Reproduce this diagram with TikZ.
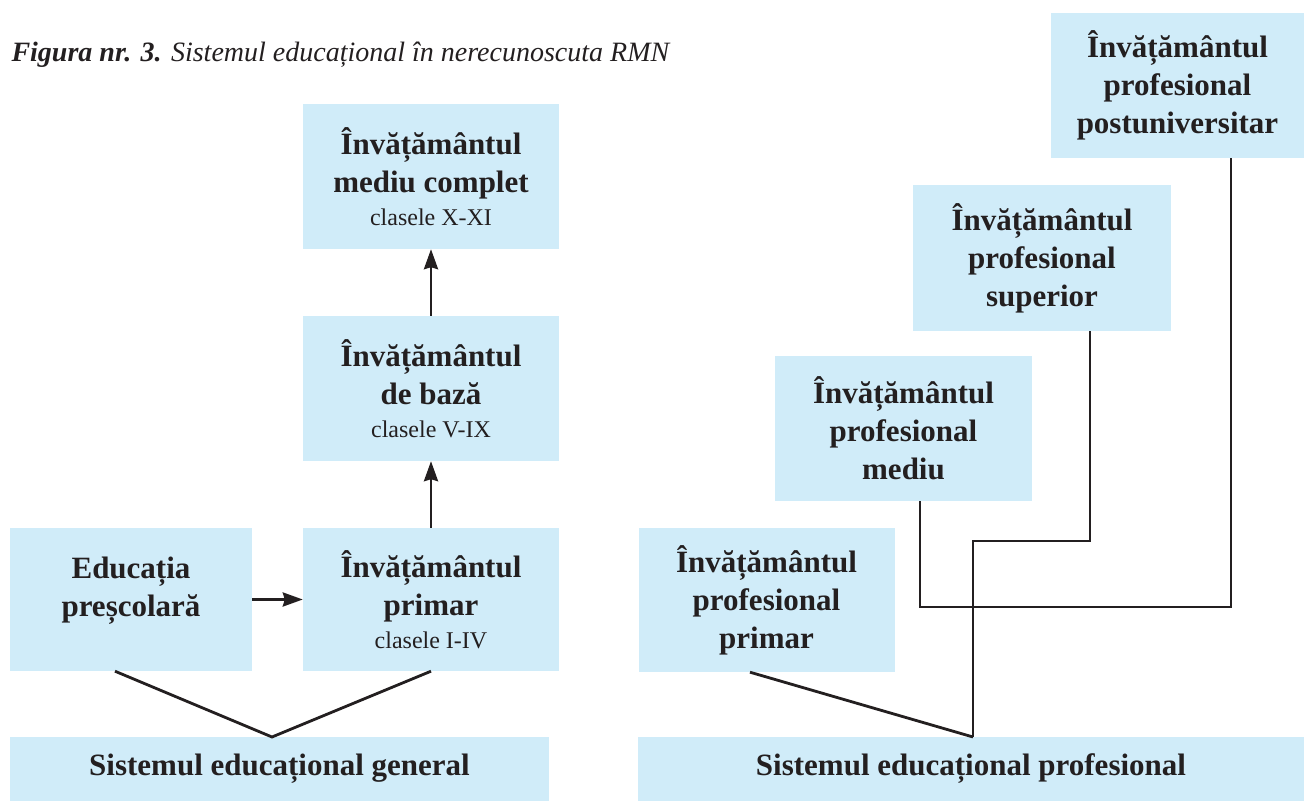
\documentclass[tikz,border=0pt]{standalone}
\usepackage{fontspec}
\setmainfont{Liberation Serif}
\usepackage{tikz}
\usetikzlibrary{arrows.meta}
\definecolor{boxblue}{HTML}{D0ECF9}
\definecolor{inkdark}{HTML}{231F20}

\begin{document}
\begin{tikzpicture}
  [
    x=1pt, y=-1pt,
    every node/.style = {text=inkdark},
    stage/.style  = {fill=boxblue, align=center, inner sep=0pt,
                     font=\fontsize{31}{38}\selectfont\bfseries},
    tall/.style   = {stage, minimum width=256pt, minimum height=145pt},
    base/.style   = {stage, minimum height=64pt},
    link/.style   = {draw=inkdark, line width=2.8pt},
    flow/.style   = {link, -{Stealth[length=20pt,width=14pt,inset=2pt]}},
  ]
 \useasboundingbox (0,0) rectangle (1304,802);
 \newcommand{\grade}[1]{\\[-5pt]{\fontsize{24}{30}\selectfont\mdseries #1}}

 \node [anchor=west, font=\fontsize{28}{30}\selectfont] (title) at (8,55)
   {\textbf{\textit{Figura nr. 3.}} \textit{Sistemul educațional în nerecunoscuta RMN}};

 % general branch
 \node [tall] (mediu)  at (431,176.5) {Învățământul\\mediu complet\grade{clasele X-XI}};
 \node [tall] (baza)   at (431,388.5) {Învățământul\\de bază\grade{clasele V-IX}};
 \node [tall, minimum height=143pt] (primar) at (431,599.5) {Învățământul\\primar\grade{clasele I-IV}};
 \node [tall, minimum width=242pt, minimum height=143pt, text depth=26pt] (prescolar) at (131,599.5) {Educația\\preșcolară};
 \node [base, minimum width=539pt] (general) at (279.5,769) {Sistemul educațional general};

 % professional branch
 \node [tall, minimum height=144pt] (pprimar) at (766.5,600) {Învățământul\\profesional\\primar};
 \node [tall, minimum width=257pt] (pmediu)  at (903.5,428.5) {Învățământul\\profesional\\mediu};
 \node [tall, minimum width=258pt, minimum height=146pt] (psuperior) at (1042,258) {Învățământul\\profesional\\superior};
 \node [tall, minimum width=253pt] (ppost) at (1177.5,85.5) {Învățământul\\profesional\\postuniversitar};
 \node [base, minimum width=666pt] (profesional) at (971,769) {Sistemul educațional profesional};

 \coordinate (g) at (272,737);
 \coordinate (p) at (973,737);
 \coordinate (ps) at (1090,541);
 \coordinate (pm) at (920,607);

 \draw [link] (prescolar.south -| 115,0) -- (g) -- (primar.south);
 \draw [flow] (prescolar) -- (primar);
 \draw [flow] (primar) -- (baza);
 \draw [flow] (baza) -- (mediu);

 \draw [link] (pprimar.south -| 750,0) -- (p);
 \draw [link] (p) |- (ps) -- (psuperior.south -| ps);
 \draw [link] (pmediu.south -| pm) |- (pm -| 1231,0) -- (ppost.south -| 1231,0);
\end{tikzpicture}
\end{document}
